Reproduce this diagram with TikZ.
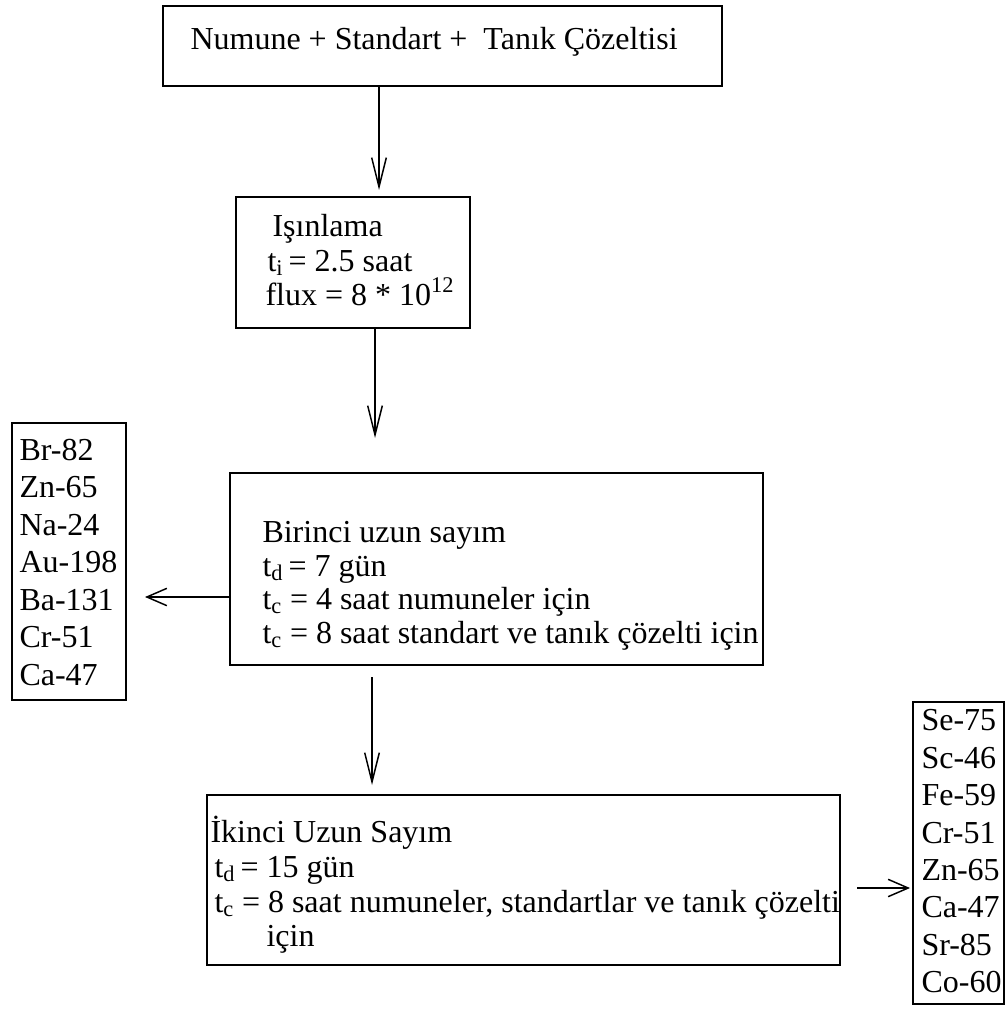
\documentclass[tikz,border=0pt]{standalone}
\usepackage{fontspec}
\setmainfont{Liberation Serif}
\usetikzlibrary{arrows.meta,fit}
\tikzset{every picture/.style={line width=0.75pt}}
\tikzset{
  kutu/.style={draw, line width=1.5pt, inner sep=0pt},
  yazi/.style={anchor=base west, inner sep=0pt, font=\fontsize{24}{28}\selectfont},
  okdik/.style={line width=1.1pt, -{Straight Barb[length=22pt,width=11pt,line width=1.1pt]}},
  okyan/.style={line width=1.1pt, -{Straight Barb[length=15pt,width=13pt,line width=1.1pt]}}
}

\begin{document}
\begin{tikzpicture}[x=0.75pt,y=0.75pt,yscale=-1,xscale=1]
\useasboundingbox (0,0) rectangle (1006,1009);

%Shape: Rectangle [numune]
\node (numune) [kutu, fit={(163,6) (722,86)}] {};
%Shape: Rectangle [isinlama]
\node (isin) [kutu, fit={(236,197) (470,328)}] {};
%Shape: Rectangle [birinci sayim]
\node (bir) [kutu, fit={(230,473) (763,665)}] {};
%Shape: Rectangle [ikinci sayim]
\node (iki) [kutu, fit={(207,795) (840,965)}] {};
%Shape: Rectangle [sol liste]
\node (sol) [kutu, fit={(12,423) (126,700)}] {};
%Shape: Rectangle [sag liste]
\node (sag) [kutu, fit={(913,702) (1004,1004)}] {};

% Text Node
\node (t0) [yazi] at (190,50) {Numune + Standart + \ Tanık Çözeltisi};
% Text Node
\node (t1) [yazi] at (272,237) {Işınlama};
\node (t2) [yazi] at (267,271) {t\textsubscript{i}\,= 2.5 saat};
\node (t3) [yazi] at (265,305) {flux = 8 * 10\textsuperscript{12}};
% Text Node
\node (t4) [yazi] at (262,542) {Birinci uzun sayım};
\node (t5) [yazi] at (262,576) {t\textsubscript{d}\,= 7 gün};
\node (t6) [yazi] at (262,609) {t\textsubscript{c} = 4 saat numuneler için};
\node (t7) [yazi] at (262,643) {t\textsubscript{c} = 8 saat standart ve tanık çözelti için};
% Text Node
\node (t8) [yazi] at (210,842) {İkinci Uzun Sayım};
\node (t9) [yazi] at (214,877) {t\textsubscript{d}\,= 15 gün};
\node (t10) [yazi] at (214,912) {t\textsubscript{c} = 8 saat numuneler, standartlar ve tanık çözelti};
\node (t11) [yazi] at (266,946) {için};

% isotope lists
\foreach \el [count=\i] in {Br-82,Zn-65,Na-24,Au-198,Ba-131,Cr-51,Ca-47}
  \node (s\i) [yazi] at (19,422.5+37.5*\i) {\el};
\foreach \el [count=\i] in {Se-75,Sc-46,Fe-59,Cr-51,Zn-65,Ca-47,Sr-85,Co-60}
  \node (r\i) [yazi] at (921,693.5+37.4*\i) {\el};

%Straight Lines [arrows]
\coordinate (u1) at (379,190);
\coordinate (u2) at (375,438);
\coordinate (u3a) at (372,677);
\coordinate (u3) at (372,785);
\coordinate (u4) at (145,597);
\coordinate (u5a) at (857,888);
\coordinate (u5) at (910,888);
\draw [okdik] (numune.south -| u1) -- (u1);
\draw [okdik] (isin.south -| u2) -- (u2);
\draw [okdik] (u3a) -- (u3);
\draw [okyan] (bir.west |- u4) -- (u4);
\draw [okyan] (u5a) -- (u5);

\end{tikzpicture}
\end{document}
